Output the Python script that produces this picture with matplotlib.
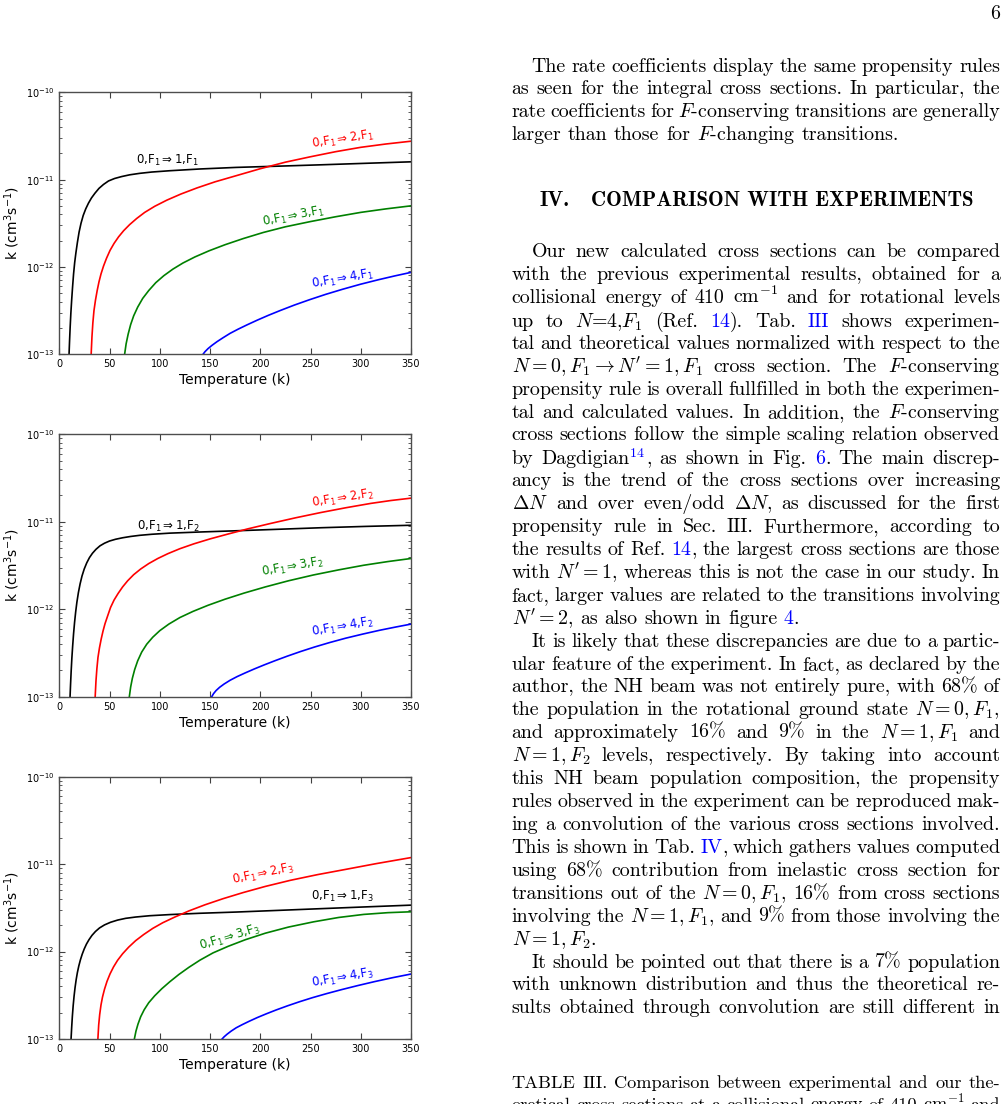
import matplotlib
matplotlib.use("Agg")
import matplotlib.pyplot as plt
import numpy as np
from matplotlib.ticker import NullFormatter

# rate coefficients: T in K, lg = log10(k / cm^3 s^-1)
# panel 1 : 0,F1 -> N',F1
t_f1_n1 = [9.7, 10.2, 10.8, 11.5, 12.3, 13.2, 14.2, 15.3, 16.5, 18, 19.7, 21.6, 23.8, 26.3,
           29, 32, 35.5, 39.5, 44, 49, 55, 62, 70, 80, 92, 110, 140, 176, 220, 261, 305, 350]
lg_f1_n1 = [-13.0, -12.85, -12.69, -12.53, -12.38, -12.23, -12.08, -11.95, -11.84, -11.72,
            -11.60, -11.50, -11.41, -11.335, -11.27, -11.21, -11.155, -11.10, -11.055,
            -11.015, -10.987, -10.965, -10.945, -10.928, -10.913, -10.898, -10.878,
            -10.86, -10.845, -10.83, -10.813, -10.796]
t_f1_n2 = [31.7, 32.5, 33.4, 34.5, 36, 37.7, 39.5, 41.5, 44, 47, 50.5, 54.5, 59, 64, 70, 77,
           85, 95, 107, 121, 137, 155, 176, 200, 225, 250, 275, 300, 325, 350]
lg_f1_n2 = [-13.0, -12.80, -12.64, -12.50, -12.38, -12.27, -12.17, -12.08, -11.99, -11.90,
            -11.81, -11.73, -11.655, -11.585, -11.515, -11.445, -11.375, -11.305, -11.235,
            -11.165, -11.095, -11.025, -10.955, -10.875, -10.80, -10.738, -10.68, -10.63,
            -10.592, -10.56]
t_f1_n3 = [65, 66.5, 68.5, 71, 74, 78, 83, 89, 96, 104, 113, 123, 135, 149, 165, 183, 203,
           225, 250, 275, 300, 325, 350]
lg_f1_n3 = [-13.0, -12.88, -12.77, -12.66, -12.56, -12.46, -12.36, -12.27, -12.18, -12.10,
            -12.025, -11.955, -11.885, -11.815, -11.745, -11.675, -11.605, -11.54, -11.48,
            -11.425, -11.375, -11.335, -11.30]
t_f1_n4 = [143, 145, 148, 152, 157, 163, 170, 178, 187, 197, 208, 220, 234, 249, 265, 282,
           300, 318, 334, 350]
lg_f1_n4 = [-13.0, -12.97, -12.935, -12.897, -12.855, -12.81, -12.76, -12.712, -12.662,
            -12.609, -12.554, -12.498, -12.436, -12.375, -12.314, -12.255, -12.197, -12.145,
            -12.102, -12.062]

# panel 2 : 0,F1 -> N',F2
t_f2_n1 = [10.7, 11.2, 11.8, 12.5, 13.3, 14.2, 15.2, 16.3, 17.5, 19, 20.7, 22.6, 24.8, 27.3,
           30, 33, 36.5, 40.5, 45, 50, 56, 63, 71, 80, 92, 110, 140, 176, 220, 261, 305, 350]
lg_f2_n1 = [-13.0, -12.86, -12.71, -12.56, -12.42, -12.28, -12.15, -12.03, -11.92, -11.81,
            -11.71, -11.62, -11.54, -11.47, -11.41, -11.36, -11.315, -11.275, -11.245,
            -11.22, -11.20, -11.183, -11.168, -11.155, -11.143, -11.13, -11.117, -11.103,
            -11.085, -11.068, -11.053, -11.04]
t_f2_n2 = [35.7, 36.5, 37.4, 38.5, 40, 41.7, 43.5, 45.5, 48, 51, 54.5, 58.5, 63, 68, 74, 81,
           89, 98, 108, 120, 134, 150, 168, 188, 210, 235, 260, 285, 310, 330, 350]
lg_f2_n2 = [-13.0, -12.82, -12.68, -12.55, -12.44, -12.34, -12.25, -12.165, -12.08, -11.98,
            -11.895, -11.82, -11.745, -11.675, -11.605, -11.54, -11.478, -11.42, -11.365,
            -11.308, -11.252, -11.196, -11.14, -11.08, -11.02, -10.955, -10.895, -10.84,
            -10.79, -10.757, -10.73]
t_f2_n3 = [69.7, 71, 72.7, 75, 78, 82, 87, 93, 100, 109, 120, 133, 148, 165, 184, 205, 228,
           253, 278, 303, 327, 350]
lg_f2_n3 = [-13.0, -12.89, -12.79, -12.69, -12.59, -12.49, -12.40, -12.32, -12.245, -12.17,
            -12.095, -12.025, -11.955, -11.885, -11.815, -11.745, -11.675, -11.608, -11.55,
            -11.497, -11.455, -11.42]
t_f2_n4 = [151.7, 153.5, 156, 159.5, 164, 170, 177, 185, 194, 204, 215, 227, 240, 254, 269,
           285, 302, 319, 335, 350]
lg_f2_n4 = [-13.0, -12.965, -12.93, -12.893, -12.855, -12.812, -12.77, -12.728, -12.683,
            -12.636, -12.587, -12.536, -12.484, -12.432, -12.381, -12.331, -12.284, -12.24,
            -12.203, -12.17]

# panel 3 : 0,F1 -> N',F3
t_f3_n1 = [11.7, 12.3, 13.0, 13.8, 14.7, 15.7, 16.8, 18.0, 19.4, 21.0, 22.8, 24.8, 27.0,
           29.5, 32.5, 36, 40, 45, 51, 58, 66, 76, 90, 110, 140, 176, 220, 261, 305, 350]
lg_f3_n1 = [-13.0, -12.87, -12.74, -12.62, -12.51, -12.41, -12.32, -12.24, -12.165, -12.095,
            -12.03, -11.97, -11.915, -11.865, -11.815, -11.77, -11.73, -11.695, -11.665,
            -11.64, -11.62, -11.605, -11.59, -11.577, -11.562, -11.548, -11.528, -11.509,
            -11.489, -11.469]
t_f3_n2 = [38.4, 39.2, 40.2, 41.5, 43, 45, 47.5, 50.5, 54, 58, 63, 69, 76, 84, 93, 103, 115,
           129, 145, 163, 183, 205, 230, 257, 285, 315, 350]
lg_f3_n2 = [-13.0, -12.84, -12.72, -12.61, -12.52, -12.43, -12.34, -12.255, -12.175, -12.10,
            -12.025, -11.95, -11.875, -11.805, -11.735, -11.67, -11.605, -11.535, -11.465,
            -11.395, -11.325, -11.255, -11.185, -11.12, -11.06, -10.995, -10.925]
t_f3_n3 = [74.7, 76.3, 78.3, 81, 84.5, 89, 95, 102, 110, 119, 129, 140, 153, 168, 185, 205,
           228, 253, 278, 303, 327, 350]
lg_f3_n3 = [-13.0, -12.91, -12.83, -12.745, -12.665, -12.585, -12.505, -12.425, -12.345,
            -12.262, -12.18, -12.098, -12.015, -11.94, -11.865, -11.79, -11.72, -11.66,
            -11.61, -11.575, -11.555, -11.545]
t_f3_n4 = [162, 164, 167, 171, 176, 182, 189, 197, 206, 216, 227, 239, 252, 266, 281, 297,
           314, 332, 350]
lg_f3_n4 = [-13.0, -12.975, -12.945, -12.91, -12.872, -12.836, -12.797, -12.755, -12.712,
            -12.667, -12.621, -12.574, -12.527, -12.481, -12.435, -12.389, -12.343, -12.298,
            -12.257]

x_ticks = [0, 50, 100, 150, 200, 250, 300, 350]
colors = ['black', 'red', 'green', 'blue']

# text column of the page: (y centre px, indented, justified, text)
# @...@ marks the blue cross references
body = [
    (66.7, True, True, "The rate coefficients display the same propensity rules"),
    (89.3, False, True, "as seen for the integral cross sections. In particular, the"),
    (112.3, False, True, "rate coefficients for $F$-conserving transitions are generally"),
    (135.0, False, False, "larger than those for $F$-changing transitions."),
    (252.3, True, True, "Our new calculated cross sections can be compared"),
    (275.0, False, True, "with the previous experimental results, obtained for a"),
    (298.3, False, True, "collisional energy of 410 cm$^{-1}$ and for rotational levels"),
    (321.7, False, True, "up to $N$=4,$F_1$ (Ref. @14@). Tab. @III@ shows experimen-"),
    (344.0, False, True, "tal and theoretical values normalized with respect to the"),
    (367.3, False, True, r"$N=0,F_1\rightarrow N^\prime=1,F_1$ cross section. The $F$-conserving"),
    (390.0, False, True, "propensity rule is overall fullfilled in both the experimen-"),
    (412.7, False, True, "tal and calculated values. In addition, the $F$-conserving"),
    (435.3, False, True, "cross sections follow the simple scaling relation observed"),
    (458.7, False, True, "by Dagdigian@$^{14}$@, as shown in Fig. @6@. The main discrep-"),
    (481.3, False, True, "ancy is the trend of the cross sections over increasing"),
    (504.0, False, True, r"$\Delta N$ and over even/odd $\Delta N$, as discussed for the first"),
    (527.3, False, True, "propensity rule in Sec. III. Furthermore, according to"),
    (550.0, False, True, "the results of Ref. @14@, the largest cross sections are those"),
    (573.3, False, True, r"with $N^\prime=1$, whereas this is not the case in our study. In"),
    (596.0, False, True, "fact, larger values are related to the transitions involving"),
    (619.0, False, False, r"$N^\prime=2$, as also shown in figure @4@."),
    (642.3, True, True, "It is likely that these discrepancies are due to a partic-"),
    (665.0, False, True, "ular feature of the experiment. In fact, as declared by the"),
    (687.3, False, True, "author, the NH beam was not entirely pure, with 68% of"),
    (710.0, False, True, "the population in the rotational ground state $N=0,F_1$,"),
    (732.7, False, True, "and approximately 16% and 9% in the $N=1,F_1$ and"),
    (756.0, False, True, "$N=1,F_2$ levels, respectively. By taking into account"),
    (779.3, False, True, "this NH beam population composition, the propensity"),
    (802.0, False, True, "rules observed in the experiment can be reproduced mak-"),
    (825.3, False, True, "ing a convolution of the various cross sections involved."),
    (848.3, False, True, "This is shown in Tab. @IV@, which gathers values computed"),
    (871.0, False, True, "using 68% contribution from inelastic cross section for"),
    (894.0, False, True, "transitions out of the $N=0,F_1$, 16% from cross sections"),
    (916.7, False, True, "involving the $N=1,F_1$, and 9% from those involving the"),
    (940.0, False, False, "$N=1,F_2$."),
    (962.7, True, True, "It should be pointed out that there is a 7% population"),
    (985.0, False, True, "with unknown distribution and thus the theoretical re-"),
    (1007.7, False, True, "sults obtained through convolution are still different in"),
]
caption = [
    (1083.3, "TABLE III. Comparison between experimental and our the-"),
    (1104.5, "oretical cross sections at a collisional energy of 410 cm$^{-1}$ and"),
]

W, H = 1008, 1104
fig = plt.figure(figsize=(W / 100, H / 100), dpi=100)


def px_rect(l, t, r, b):
    return [l / W, 1 - b / H, (r - l) / W, (b - t) / H]


panels = [
    ((92.3, 354.3), 1,
     [(t_f1_n1, lg_f1_n1), (t_f1_n2, lg_f1_n2), (t_f1_n3, lg_f1_n3), (t_f1_n4, lg_f1_n4)],
     [(108, 1.68e-11, 0), (282, 2.84e-11, 9), (233, 3.77e-12, 11), (282, 7.2e-13, 10)]),
    ((434.3, 696.7), 2,
     [(t_f2_n1, lg_f2_n1), (t_f2_n2, lg_f2_n2), (t_f2_n3, lg_f2_n3), (t_f2_n4, lg_f2_n4)],
     [(108, 8.95e-12, 0), (282, 1.86e-11, 9), (232, 3.06e-12, 10), (282, 6.3e-13, 10)]),
    ((776.7, 1039.0), 3,
     [(t_f3_n1, lg_f3_n1), (t_f3_n2, lg_f3_n2), (t_f3_n3, lg_f3_n3), (t_f3_n4, lg_f3_n4)],
     [(282, 4.25e-12, 0), (203, 7.7e-12, 12), (170, 1.45e-12, 17), (282, 4.94e-13, 10)]),
]

for (top, bottom), fi, curves, labels in panels:
    ax = fig.add_axes(px_rect(59.3, top, 411, bottom))
    for n, ((t, lg), c, (lx, ly, rot)) in enumerate(zip(curves, colors, labels)):
        ax.plot(t, 10.0 ** np.array(lg), color=c, lw=1.2)
        ax.text(lx, ly, r'0,F$_1$$\Rightarrow$%d,F$_%d$' % (n + 1, fi), color=c,
                fontsize=8.5, rotation=rot, ha='center', va='center',
                rotation_mode='anchor')
    ax.set_yscale('log')
    ax.set_xlim(0, 350)
    ax.set_ylim(1e-13, 1e-10)
    ax.set_xticks(x_ticks)
    ax.yaxis.set_minor_formatter(NullFormatter())
    ax.tick_params(which='both', direction='in', top=True, right=True,
                   labelsize=7, color='0.25')
    ax.tick_params(which='major', length=4)
    ax.tick_params(which='minor', length=2)
    ax.set_xlabel('Temperature (k)', fontsize=10, labelpad=3)
    ax.set_ylabel(r'k (cm$^3$s$^{-1}$)', fontsize=10, labelpad=3)
    for s in ax.spines.values():
        s.set_color('0.3')
        s.set_linewidth(1.0)

# ---- the text column
renderer = fig.canvas.get_renderer()
FS = 14.35
FS_CAP = 13.2
X0, X1, INDENT = 511.5, 1000.0, 20.0
BLUE = '#0000ff'


def split_words(s):
    words, cur, in_math = [], '', False
    for ch in s:
        if ch == '$':
            in_math = not in_math
        if ch == ' ' and not in_math:
            if cur:
                words.append(cur)
            cur = ''
        else:
            cur += ch
    if cur:
        words.append(cur)
    return words


def put_line(text, yc, x0, x1, justify, size=FS, family='cmr10'):
    base = 1 - (yc + 5) / H
    items = []
    for w in split_words(text):
        segs = []
        for i, part in enumerate(w.split('@')):
            if not part:
                continue
            t = fig.text(0, base, part, fontsize=size, family=family,
                         color=BLUE if i % 2 else 'black', math_fontfamily='cm',
                         ha='left', va='baseline')
            segs.append((t, t.get_window_extent(renderer).width))
        items.append(segs)
    total = sum(wd for segs in items for _, wd in segs)
    space = 0.333 * size * 100 / 72
    if justify and len(items) > 1:
        gap = (x1 - x0 - total) / (len(items) - 1)
    else:
        gap = space
    x = x0
    for segs in items:
        for t, wd in segs:
            t.set_x(x / W)
            x += wd
        x += gap


for yc, indented, justify, text in body:
    put_line(text, yc, X0 + (INDENT if indented else 0), X1, justify)
for yc, text in caption:
    put_line(text, yc, X0, X1, True, size=FS_CAP)

fig.text(X1 / W, 1 - 19 / H, '6', fontsize=FS, family='cmr10', ha='right', va='baseline')
fig.text(539 / W, 1 - 206 / H, 'IV.', fontsize=15.1, family='cmb10', ha='left', va='baseline')
fig.text(591 / W, 1 - 206 / H, 'COMPARISON WITH EXPERIMENTS', fontsize=15.1,
         family='cmb10', ha='left', va='baseline')

fig.savefig('out.png', dpi=100)
